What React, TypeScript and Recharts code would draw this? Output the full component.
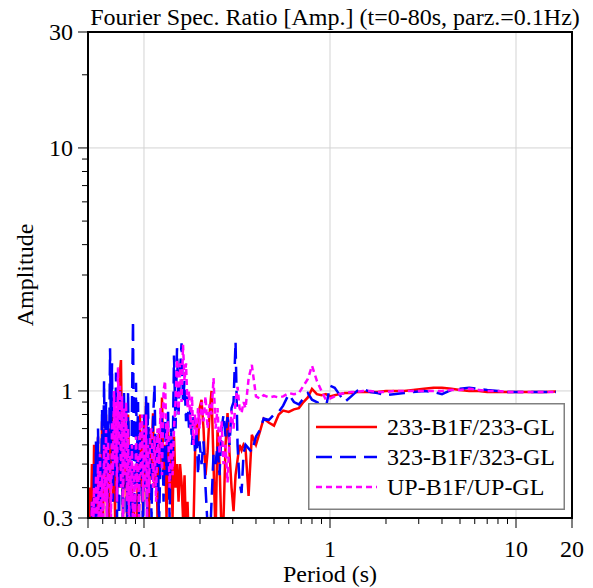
import React from 'react'
import { LineChart, Line, XAxis, YAxis, CartesianGrid, ReferenceArea, Legend, Label } from 'recharts'

const FONT = '"Liberation Serif", "Times New Roman", serif'

// period (s) samples, shared by the three ratios (dense at short periods)
const periodsFine = [
  0.0506, 0.0513, 0.0519, 0.0525, 0.0532, 0.0539, 0.0545, 0.0552, 0.0559, 0.0566,
  0.0573, 0.058, 0.0587, 0.0595, 0.0602, 0.061, 0.0617, 0.0625, 0.0633, 0.0641,
  0.0649, 0.0657, 0.0665, 0.0673, 0.0681, 0.069, 0.0699, 0.0707, 0.0716, 0.0725,
  0.0734, 0.0743, 0.0752, 0.0762, 0.0771, 0.0781, 0.0791, 0.0801, 0.0811, 0.0821,
  0.0831, 0.0841, 0.0852, 0.0862, 0.0873, 0.0884, 0.0895, 0.0906, 0.0917, 0.0929,
  0.094, 0.0952, 0.0964, 0.0976, 0.0988, 0.1, 0.1013, 0.1026, 0.1038, 0.1051,
  0.1064, 0.1078,
]
const periodsMid = [
  0.1098, 0.1118, 0.1139, 0.1161, 0.1182, 0.1205, 0.1227, 0.125, 0.1274, 0.1298,
  0.1322, 0.1347, 0.1372, 0.1398, 0.1424, 0.145, 0.1478, 0.1505, 0.1534, 0.1562,
  0.1592, 0.1621, 0.1652, 0.1683, 0.1714, 0.1746, 0.1779, 0.1812, 0.1846, 0.1881,
  0.1916, 0.1952, 0.1989,
]
const periodsCoarse = [
  0.2039, 0.209, 0.2142, 0.2196, 0.2251, 0.2307, 0.2365, 0.2425, 0.2485, 0.2548,
  0.2612, 0.2677, 0.2744, 0.2813, 0.2884, 0.2956, 0.303, 0.3106, 0.3184, 0.3264,
  0.3346, 0.3429, 0.3515,
]
const periodsSmooth = [
  0.365, 0.38, 0.4, 0.42, 0.44, 0.47, 0.5, 0.53, 0.56, 0.6,
  0.64, 0.68, 0.72, 0.76, 0.8, 0.85, 0.9, 0.95, 1.0, 1.06,
  1.12, 1.2, 1.3, 1.4, 1.5, 1.65, 1.8, 2.0, 2.2, 2.5,
  2.8, 3.2, 3.6, 4.0, 4.5, 5.0, 5.6, 6.3, 7.0, 8.0,
  9.0, 10, 11.5, 13, 14.5, 16.4,
]
const periods = [...periodsFine, ...periodsMid, ...periodsCoarse, ...periodsSmooth]

// 233-B1F/233-GL
const amp233 = [
  // fine
  0.25, 0.4, 0.3, 0.5, 0.25, 0.6, 0.35, 0.45, 0.22, 0.65,
  0.3, 0.5, 0.35, 0.75, 0.28, 0.6, 0.4, 0.8, 0.3, 0.55,
  0.25, 0.7, 0.45, 0.9, 0.35, 0.6, 0.3, 0.85, 0.5, 0.7,
  0.4, 1.2, 1.34, 0.55, 0.3, 0.75, 0.4, 0.6, 0.28, 0.8,
  0.45, 0.5, 0.3, 0.4, 0.22, 0.35, 0.2, 0.3, 0.25, 0.6,
  0.35, 0.8, 0.4, 0.65, 0.3, 0.75, 0.45, 0.9, 0.35, 0.6,
  0.3, 0.7,
  // mid
  0.45, 0.81, 0.4, 0.65, 0.3, 0.7, 0.5, 0.94, 0.45, 0.6,
  0.3, 0.7, 0.4, 0.55, 0.3, 0.65, 0.4, 0.5, 0.35, 0.5,
  0.42, 0.3, 0.45, 0.25, 0.35, 0.22, 0.3, 0.2, 0.28, 0.55,
  0.74, 0.6, 0.85,
  // coarse
  0.92, 0.7, 0.45, 0.56, 0.8, 1.0, 0.5, 0.25, 0.69, 0.5,
  0.26, 0.3, 0.6, 0.81, 0.55, 0.4, 0.32, 0.45, 0.52, 0.6,
  0.57, 0.6, 0.58,
  // smooth
  0.37, 0.66, 0.6, 0.68, 0.77, 0.74, 0.72, 0.8, 0.83, 0.82,
  0.84, 0.85, 0.9, 0.94, 1.02, 0.97, 0.96, 0.97, 0.95, 0.96,
  0.97, 0.98, 0.98, 0.99, 0.99, 0.99, 0.99, 1.0, 1.0, 1.0,
  1.01, 1.02, 1.03, 1.03, 1.02, 1.01, 1.0, 1.0, 0.99, 0.99,
  0.99, 0.99, 0.99, 0.99, 0.99, 0.995,
]

// 323-B1F/323-GL
const amp323 = [
  // fine
  0.2, 0.28, 0.22, 0.35, 0.2, 0.5, 0.25, 0.62, 0.3, 0.7,
  0.35, 0.55, 0.28, 0.85, 0.4, 1.1, 0.45, 0.9, 0.3, 0.75,
  0.5, 1.5, 0.6, 1.3, 0.35, 0.95, 0.45, 1.19, 0.3, 0.8,
  0.22, 1.0, 0.4, 0.7, 0.25, 0.98, 0.5, 0.85, 0.2, 1.0,
  0.45, 0.6, 0.3, 0.9, 1.95, 0.35, 0.25, 1.08, 0.5, 0.9,
  0.3, 0.7, 0.45, 0.55, 0.25, 0.8, 0.4, 0.95, 0.3, 0.9,
  0.5, 0.6,
  // mid
  0.3, 0.75, 1.06, 0.4, 0.65, 0.28, 0.55, 0.8, 0.35, 0.76,
  0.45, 0.85, 0.3, 0.7, 0.5, 1.4, 0.7, 1.5, 0.8, 1.2,
  1.57, 0.9, 1.1, 0.75, 0.95, 0.7, 0.85, 0.6, 0.78, 0.55,
  0.7, 0.45, 0.62,
  // coarse
  0.5, 0.62, 0.4, 0.28, 0.22, 0.35, 0.55, 0.5, 0.6, 0.45,
  0.7, 0.8, 0.65, 0.78, 0.6, 0.85, 0.9, 1.6, 0.6, 0.42,
  0.38, 0.55, 0.6,
  // smooth
  0.58, 0.56, 0.65, 0.69, 0.77, 0.76, 0.8, 0.82, 0.87, 0.97,
  0.9, 0.88, 0.93, 0.98, 0.92, 0.9, 0.88, 0.85, 1.05, 1.03,
  0.97, 0.9, 0.95, 1.0, 1.02, 0.99, 0.98, 0.96, 0.97, 0.98,
  0.99, 1.0, 0.99, 0.97, 1.01, 1.02, 1.03, 1.02, 1.01, 1.0,
  0.99, 0.99, 0.99, 0.99, 0.99, 0.99,
]

// UP-B1F/UP-GL
const ampUP = [
  // fine
  0.22, 0.3, 0.2, 0.35, 0.25, 0.4, 0.2, 0.45, 0.28, 0.5,
  0.22, 0.55, 0.3, 0.45, 0.25, 0.6, 0.35, 0.69, 0.3, 0.62,
  0.4, 0.5, 0.3, 0.75, 0.45, 1.0, 0.5, 0.9, 0.35, 1.25,
  0.6, 1.05, 0.4, 0.95, 0.3, 0.85, 0.45, 0.9, 0.35, 0.7,
  0.28, 0.55, 0.35, 0.6, 0.25, 0.5, 0.3, 0.65, 0.4, 0.55,
  0.3, 0.75, 0.45, 0.8, 0.35, 0.7, 0.4, 0.8, 0.3, 0.6,
  0.38, 0.65,
  // mid
  0.7, 0.4, 0.65, 0.35, 0.7, 0.5, 0.85, 0.45, 1.0, 1.1,
  0.6, 0.75, 0.4, 0.65, 0.45, 0.7, 0.9, 1.35, 0.8, 1.3,
  0.9, 1.55, 1.1, 1.3, 0.85, 1.0, 0.7, 0.95, 0.6, 0.8,
  0.65, 0.85, 0.7,
  // coarse
  0.9, 0.75, 0.95, 0.7, 0.88, 0.8, 1.13, 0.7, 0.85, 0.55,
  0.75, 0.5, 0.6, 0.42, 0.65, 0.83, 0.7, 0.9, 1.04, 0.85,
  0.81, 0.9, 0.85,
  // smooth
  1.12, 1.28, 0.95, 0.93, 0.96, 0.94, 0.95, 0.94, 0.95, 0.98,
  0.97, 0.98, 1.05, 1.12, 1.27, 1.1, 1.0, 0.92, 0.93, 0.95,
  0.97, 0.98, 0.99, 0.99, 1.0, 1.0, 0.99, 0.99, 1.0, 1.0,
  1.0, 1.0, 1.0, 1.0, 1.01, 1.01, 1.02, 1.01, 1.0, 1.0,
  0.99, 0.99, 0.99, 0.99, 0.99, 0.99,
]

const xTicks = [0.05, 0.06, 0.07, 0.08, 0.09, 0.1, 0.2, 0.3, 0.4, 0.5, 0.6, 0.7, 0.8, 0.9, 1, 2, 3, 4, 5, 6, 7, 8, 9, 10, 20]
const xLabels = [0.05, 0.1, 1, 10, 20]
const yTicks = [0.3, 0.4, 0.5, 0.6, 0.7, 0.8, 0.9, 1, 2, 3, 4, 5, 6, 7, 8, 9, 10, 20, 30]
const yLabels = [0.3, 1, 10, 30]
const xGrid = [0.1, 1, 10]
const yGrid = [1, 10]

const SERIES = [
  { key: 'r233', name: '233-B1F/233-GL', color: '#ff0000', dash: undefined as string | undefined },
  { key: 'r323', name: '323-B1F/323-GL', color: '#0000ff', dash: '16 8' },
  { key: 'rUP', name: 'UP-B1F/UP-GL', color: '#ff00ff', dash: '6 4' },
]

const data = periods.map((p, i) => ({ period: p, r233: amp233[i], r323: amp323[i], rUP: ampUP[i] }))

const scaleOf = (axis: any) => (v: number) => {
  const s = axis?.scale
  if (typeof s === 'function') return s(v)
  if (s && typeof s.map === 'function') return s.map(v)
  return 0
}

const XTick = (props: any) => {
  const { x, y, payload } = props
  const v = payload.value
  const major = xLabels.includes(v)
  return (
    <g>
      <line x1={x} x2={x} y1={y} y2={y + (major ? 10 : 6)} stroke="#000" strokeWidth={1} />
      {major && (
        <text x={x} y={y + 39} textAnchor="middle" fontSize={24} fontFamily={FONT} fill="#000">{v}</text>
      )}
    </g>
  )
}

const YTick = (props: any) => {
  const { x, y, payload } = props
  const v = payload.value
  const major = yLabels.includes(v)
  return (
    <g>
      <line x1={x} x2={x - (major ? 10 : 6)} y1={y} y2={y} stroke="#000" strokeWidth={1} />
      {major && (
        <text x={x - 15} y={y + 8} textAnchor="end" fontSize={24} fontFamily={FONT} fill="#000">{v}</text>
      )}
    </g>
  )
}

const LegendBox = () => (
  <svg width={257} height={107} style={{ display: 'block' }}>
    <rect x={0.75} y={0.75} width={255.5} height={105.5} fill="#fff" stroke="#808080" strokeWidth={1.5} />
    {SERIES.map((s, i) => (
      <g key={s.key}>
        <line x1={8} x2={69} y1={24 + i * 30} y2={24 + i * 30} stroke={s.color} strokeWidth={2.5} strokeDasharray={s.dash} />
        <text x={79} y={32 + i * 30} fontSize={24} fontFamily={FONT} fill="#000">{s.name}</text>
      </g>
    ))}
  </svg>
)

export default function App() {
  return (
    <div style={{ position: 'absolute', left: 0, top: 0, width: 593, height: 588, background: '#fff' }}>
      <svg width={593} height={32} style={{ position: 'absolute', left: 0, top: 0 }}>
        <text x={335} y={25} textAnchor="middle" fontSize={24} fontFamily={FONT} fill="#000">
          Fourier Spec. Ratio [Amp.] (t=0-80s, parz.=0.1Hz)
        </text>
      </svg>
      <LineChart width={593} height={588} data={data} margin={{ top: 32, right: 21, bottom: 0, left: 0 }}>
        <CartesianGrid
          stroke="#d3d3d3"
          strokeWidth={1}
          verticalCoordinatesGenerator={({ xAxis }: any) => xGrid.map(scaleOf(xAxis))}
          horizontalCoordinatesGenerator={({ yAxis }: any) => yGrid.map(scaleOf(yAxis))}
        />
        <XAxis
          dataKey="period"
          type="number"
          scale="log"
          domain={[0.05, 20]}
          allowDataOverflow
          ticks={xTicks}
          interval={0}
          tick={<XTick />}
          tickLine={false}
          tickSize={0}
          tickMargin={0}
          axisLine={{ stroke: '#000', strokeWidth: 2 }}
          height={70}
        >
          <Label
            content={({ viewBox }: any) => (
              <text x={viewBox.x + viewBox.width / 2} y={582} textAnchor="middle" fontSize={24} fontFamily={FONT} fill="#000">
                Period (s)
              </text>
            )}
          />
        </XAxis>
        <YAxis
          type="number"
          scale="log"
          domain={[0.3, 30]}
          allowDataOverflow
          ticks={yTicks}
          interval={0}
          tick={<YTick />}
          tickLine={false}
          tickSize={0}
          tickMargin={0}
          axisLine={{ stroke: '#000', strokeWidth: 2 }}
          width={88}
        >
          <Label
            content={({ viewBox }: any) => {
              const cx = 33
              const cy = viewBox.y + viewBox.height / 2
              return (
                <text x={cx} y={cy} transform={`rotate(-90, ${cx}, ${cy})`} textAnchor="middle" fontSize={24} fontFamily={FONT} fill="#000">
                  Amplitude
                </text>
              )
            }}
          />
        </YAxis>
        <ReferenceArea x1={0.05} x2={20} y1={0.3} y2={30} fill="none" stroke="#000" strokeWidth={2} />
        {SERIES.map((s) => (
          <Line
            key={s.key}
            dataKey={s.key}
            name={s.name}
            type="linear"
            stroke={s.color}
            strokeWidth={2.5}
            strokeDasharray={s.dash}
            dot={false}
            activeDot={false}
            isAnimationActive={false}
          />
        ))}
        <Legend
          layout="horizontal"
          align="center"
          verticalAlign="middle"
          content={() => <LegendBox />}
          wrapperStyle={{ left: 308, top: 403, width: 257, height: 107 }}
        />
      </LineChart>
    </div>
  )
}
